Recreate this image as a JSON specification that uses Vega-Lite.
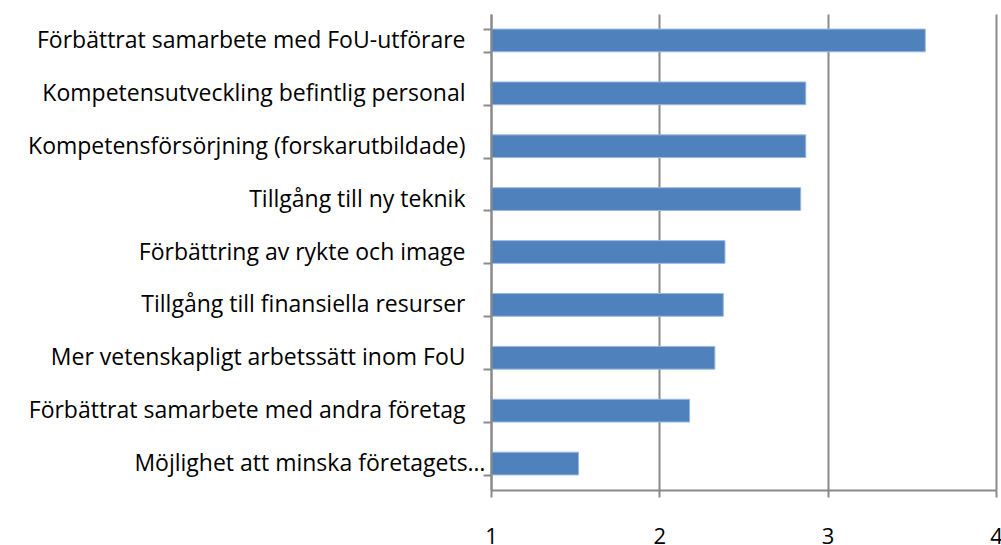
{
  "$schema": "https://vega.github.io/schema/vega-lite/v6.json",
  "width": 505,
  "height": 476,
  "autosize": {"type": "none"},
  "padding": {"left": 491, "top": 14, "right": 5, "bottom": 55},
  "background": "white",
  "config": {"view": {"stroke": null}},
  "data": {
    "values": [
      {"kategori": "Förbättrat samarbete med FoU-utförare", "varde": 3.58},
      {"kategori": "Kompetensutveckling befintlig personal", "varde": 2.87},
      {"kategori": "Kompetensförsörjning (forskarutbildade)", "varde": 2.87},
      {"kategori": "Tillgång till ny teknik", "varde": 2.84},
      {"kategori": "Förbättring av rykte och image", "varde": 2.39},
      {"kategori": "Tillgång till finansiella resurser", "varde": 2.38},
      {"kategori": "Mer vetenskapligt arbetssätt inom FoU", "varde": 2.33},
      {"kategori": "Förbättrat samarbete med andra företag", "varde": 2.18},
      {"kategori": "Möjlighet att minska företagets…", "varde": 1.52}
    ]
  },
  "mark": {"type": "bar", "color": "#4f81bd", "stroke": "#9cb8de", "strokeWidth": 1},
  "encoding": {
    "y": {
      "field": "kategori",
      "type": "nominal",
      "sort": null,
      "scale": {"paddingInner": 0.57, "paddingOuter": 0.285},
      "axis": {
        "title": null,
        "zindex": 1,
        "tickBand": "extent",
        "tickSize": 8,
        "tickWidth": 2,
        "tickColor": "#8a8a8a",
        "domainColor": "#8a8a8a",
        "domainWidth": 2,
        "labelPadding": {"condition": {"test": "datum.value === 'Möjlighet att minska företagets…'", "value": -2}, "value": 18},
        "labelFont": "Open Sans",
        "labelFontSize": 23,
        "labelColor": "#000000",
        "labelLimit": 500,
        "grid": false
      }
    },
    "x": {
      "field": "varde",
      "type": "quantitative",
      "scale": {"domain": [1, 4], "zero": false, "nice": false},
      "axis": {
        "title": null,
        "values": [1, 2, 3, 4],
        "format": "d",
        "tickSize": 7,
        "tickWidth": 2,
        "tickColor": "#8a8a8a",
        "domainColor": "#8a8a8a",
        "domainWidth": 2,
        "grid": true,
        "gridColor": "#8a8a8a",
        "gridWidth": 2,
        "gridOpacity": 1,
        "labelBaseline": "alphabetic",
        "labelPadding": 46,
        "labelFont": "Open Sans",
        "labelFontSize": 22,
        "labelColor": "#000000",
        "labelFlush": false,
        "labelOverlap": false
      }
    },
    "x2": {"datum": 1}
  }
}
